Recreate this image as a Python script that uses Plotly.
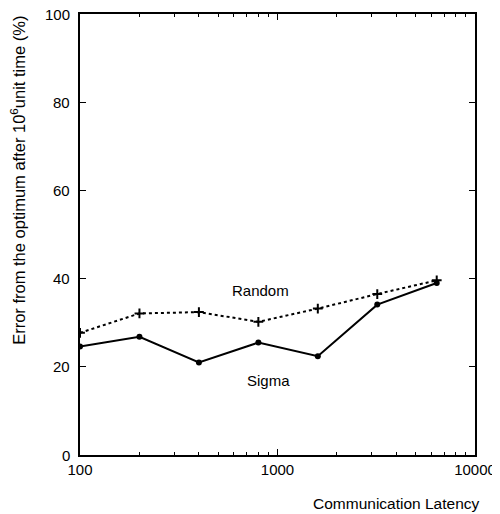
import plotly.graph_objects as go

latency = [100, 200, 400, 800, 1600, 3200, 6400]
random_err = [27.7, 32.1, 32.4, 30.2, 33.2, 36.5, 39.6]
sigma_err = [24.6, 26.8, 21.0, 25.5, 22.4, 34.1, 39.0]

x_major = [100, 1000, 10000]
x_labels = ["100", "1000", "10000"]
x_minor = [200, 300, 400, 500, 600, 700, 800, 900,
           2000, 3000, 4000, 5000, 6000, 7000, 8000, 9000]
y_ticks = [0, 20, 40, 60, 80, 100]
y_labels = ["0", "20", "40", "60", "80", "100"]

fig = go.Figure()
fig.add_trace(go.Scatter(x=latency, y=random_err, mode="lines+markers",
                         line=dict(color="black", width=2, dash="dot"),
                         marker=dict(symbol="cross-thin", size=7, line=dict(color="black", width=2)),
                         name="Random", showlegend=False))
fig.add_trace(go.Scatter(x=latency, y=sigma_err, mode="lines+markers",
                         line=dict(color="black", width=2),
                         marker=dict(symbol="circle", size=6, color="black"),
                         name="Sigma", showlegend=False))

# y tick labels anchored to the y axis scale
for v, lab in zip(y_ticks, y_labels):
    fig.add_annotation(xref="paper", yref="y", x=0, y=v, xanchor="right", yanchor="middle",
                       xshift=-8, text=lab, showarrow=False, font=dict(size=15, color="black"))

fig.add_annotation(x=2.914, y=37.2, xref="x", yref="y", text="Random", showarrow=False,
                   font=dict(size=15, color="black"))
fig.add_annotation(x=2.954, y=16.9, xref="x", yref="y", text="Sigma", showarrow=False,
                   font=dict(size=15, color="black"))
fig.add_annotation(xref="paper", yref="paper", x=1.018, y=-0.109, xanchor="right", yanchor="middle",
                   text="Communication Latency", showarrow=False,
                   font=dict(size=15.5, color="black"))
fig.add_annotation(xref="paper", yref="paper", x=-0.157, y=0.624, xanchor="center", yanchor="middle",
                   textangle=-90,
                   text="Error from the optimum after 10<sup>6</sup>unit time (%)", showarrow=False,
                   font=dict(size=16.5, color="black"))

fig.update_layout(
    width=492, height=506,
    margin=dict(l=72, r=25, t=6, b=59),
    paper_bgcolor="white", plot_bgcolor="white",
    font=dict(family="Liberation Sans, Arial, sans-serif", size=15, color="black"),
    xaxis=dict(type="log", range=[2, 4], tickvals=x_major, ticktext=x_labels,
               ticks="inside", ticklen=6, tickwidth=1, tickcolor="black",
               minor=dict(tickvals=x_minor, ticks="inside", ticklen=3, tickcolor="black", showgrid=False),
               showline=True, linecolor="black", linewidth=1.5, mirror="allticks",
               showgrid=False, zeroline=False, automargin=False),
    yaxis=dict(range=[0, 100], tickvals=y_ticks, showticklabels=False,
               ticks="inside", ticklen=6, tickwidth=1, tickcolor="black",
               showline=True, linecolor="black", linewidth=1.5, mirror="allticks",
               showgrid=False, zeroline=False, automargin=False),
)

fig.write_html("out.html")
